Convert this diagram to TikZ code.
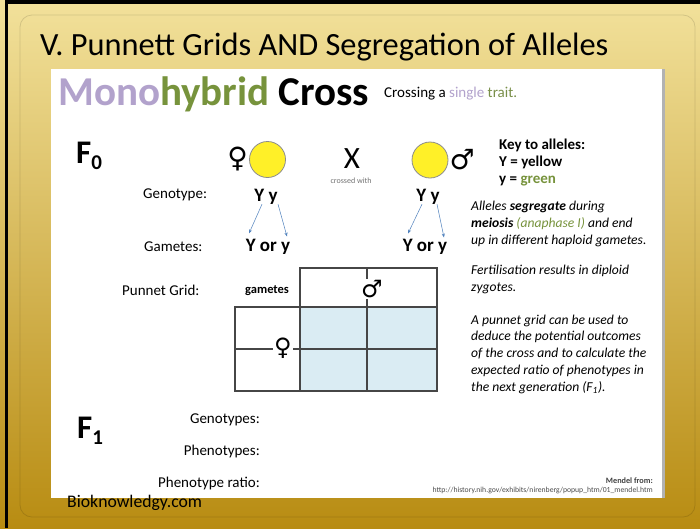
\documentclass[tikz,border=0pt]{standalone}
\usepackage{fontspec}
\setmainfont{Carlito}
\newfontfamily\symfont{DejaVu Sans}
\usetikzlibrary{arrows.meta, positioning}

\definecolor{bgtop}{RGB}{242,225,155}
\definecolor{bgmid}{RGB}{228,198,100}
\definecolor{bgbot}{RGB}{184,140,18}
\definecolor{monopurple}{RGB}{178,162,204}
\definecolor{hybgreen}{RGB}{119,147,60}
\definecolor{arrowblue}{RGB}{79,129,189}
\definecolor{cellblue}{RGB}{218,236,243}
\definecolor{gridgray}{RGB}{70,70,70}
\definecolor{peayellow}{RGB}{255,240,40}

\tikzset{
  % --- Folie ------------------------------------------------
  slidetitle/.style={anchor=base west, inner sep=0pt, font=\fontsize{32.4}{32.4}\selectfont},
  bigtitle/.style={anchor=base west, inner sep=0pt, font=\fontsize{41}{41}\selectfont\bfseries},
  small/.style={anchor=base west, inner sep=0pt, font=\fontsize{15}{15}\selectfont},
  % --- Beschriftungen ---------------------------------------
  gener/.style={anchor=base west, inner sep=0pt, font=\fontsize{33}{33}\selectfont\bfseries},
  lab/.style={anchor=base west, inner sep=0pt, font=\fontsize{15}{15}\selectfont},
  labr/.style={anchor=base east, inner sep=0pt, font=\fontsize{15}{15}\selectfont},
  gen/.style={anchor=base, inner sep=0pt, font=\fontsize{19}{19}\selectfont\bfseries},
  note/.style={anchor=base west, inner sep=0pt, align=left,
    font=\fontsize{13.6}{16.7}\selectfont\itshape},
  % --- Symbole ----------------------------------------------
  pea/.style={circle, draw=black!45, fill=peayellow, line width=0.8pt,
    minimum size=36pt, inner sep=0pt},
  sex/.style={inner sep=0pt, font=\symfont\fontsize{28}{28}\selectfont},
  sexs/.style={inner sep=1pt, fill=white, font=\symfont\fontsize{24}{24}\selectfont},
  allele/.style={->, >={Stealth[length=4pt, width=3pt]}, draw=arrowblue, line width=0.5pt},
  cell/.style={draw=gridgray, line width=1.2pt}
}

\begin{document}
\begin{tikzpicture}[x=1pt, y=-1pt]

  % --- Hintergrund ---------------------------------------------
  \useasboundingbox (0,0) rectangle (700,528);
  \fill[top color=bgtop, middle color=bgmid, bottom color=bgbot] (0,0) rectangle (700,528);
  \draw[black, opacity=0.12, line width=0.8pt, rounded corners=12pt] (20,15) rectangle (695,517);
  \fill[black] (5,0) rectangle (8,528);
  \fill[black] (5,0) rectangle (700,4);
  \fill[black!30] (662,69) rectangle (665,498);
  \fill[white] (51,69) rectangle (662,498);

  % --- Titel ---------------------------------------------------
  \node[slidetitle] (title) at (40,55) {V. Punnett Grids AND Segregation of Alleles};
  \node[bigtitle] (mono) at (58,105) {\textcolor{monopurple}{Mono}\textcolor{hybgreen}{hybrid} Cross};
  \node[small] (sub) at (384,97) {Crossing a \textcolor{monopurple}{single} \textcolor{hybgreen!80!gray}{trait.}};

  % --- F0: Eltern ----------------------------------------------
  \node[gener] (fzero) at (76,163) {F\raisebox{-6pt}{\fontsize{21}{21}\selectfont 0}};
  \node[pea] (fpea) at (267.5,159.5) {};
  \node[sex, left=1pt of fpea] (fsym) {♀};
  \node[pea] (mpea) at (430,160) {};
  \node[sex, right=1pt of mpea] (msym) {♂};
  \node[anchor=base, inner sep=0pt, font=\fontsize{31}{31}\selectfont] (cross) at (352,168) {X};
  \node[anchor=base, inner sep=0pt, text=black!55, font=\fontsize{8}{8}\selectfont] (crosswith) at (351,183) {crossed with};

  % --- Genotyp und Gameten -------------------------------------
  \node[lab] (genolab) at (143,198) {Genotype:};
  \node[gen] (fgeno) at (266,201) {Y y};
  \node[gen] (mgeno) at (428,201) {Y y};
  \node[lab] (gamlab) at (144,251) {Gametes:};
  \node[gen] (fgam) at (268,251) {Y or y};
  \node[gen] (mgam) at (425,251) {Y or y};

  \draw[allele] ([xshift=-4pt]fgeno.south) -- ([xshift=-19pt, yshift=5pt]fgam.north);
  \draw[allele] ([xshift=12pt]fgeno.south) -- ([xshift=19pt, yshift=2pt]fgam.north);
  \draw[allele] ([xshift=-6pt]mgeno.south) -- ([xshift=-17pt, yshift=5pt]mgam.north);
  \draw[allele] ([xshift=9pt]mgeno.south) -- ([xshift=19pt, yshift=1pt]mgam.north);

  % --- Punnett-Quadrat -----------------------------------------
  \node[lab] (punlab) at (122,295) {Punnet Grid:};
  \node[anchor=base west, inner sep=0pt, font=\fontsize{12.5}{12.5}\selectfont\bfseries] (gamhead) at (245,293) {gametes};
  \fill[cellblue] (300,307) rectangle (437,391);
  \draw[cell] (300,268) rectangle (437,307);
  \draw[cell] (235,307) rectangle (437,391);
  \draw[cell] (300,307) -- (300,391);
  \draw[cell] (367,268) -- (367,391);
  \draw[cell] (235,349) -- (437,349);
  \node[sexs] (gridmale) at (372,289) {♂};
  \node[sexs] (gridfemale) at (283,348) {♀};

  % --- Erklaerungen rechts (Anker = letzte Zeile) ---------------
  \node[note, font=\fontsize{15}{17}\selectfont\bfseries\upshape] (key) at (499,183)
    {Key to alleles:\\Y = yellow\\y = \textcolor{hybgreen}{green}};
  \node[note] (segnote) at (471,244)
    {Alleles \textbf{segregate} during\\\textbf{meiosis} \textcolor{hybgreen}{(anaphase I)} and end\\up in different haploid gametes.};
  \node[note] (fertnote) at (471,291)
    {Fertilisation results in diploid\\zygotes.};
  \node[note] (punnote) at (471,391)
    {A punnet grid can be used to\\deduce the potential outcomes\\of the cross and to calculate the\\expected ratio of phenotypes in\\the next generation (F\textsubscript{1}).};

  % --- F1: Nachkommen ------------------------------------------
  \node[gener] (fone) at (77,438) {F\raisebox{-6pt}{\fontsize{21}{21}\selectfont 1}};
  \node[labr] (genos) at (260,423) {Genotypes:};
  \node[labr] (phenos) at (260,455) {Phenotypes:};
  \node[labr] (ratio) at (260,487) {Phenotype ratio:};

  % --- Fusszeile -----------------------------------------------
  \node[anchor=base east, inner sep=0pt, text=black!75, font=\fontsize{8.2}{8.2}\selectfont\bfseries] (mendel) at (653,483) {Mendel from:};
  \node[anchor=base east, inner sep=0pt, text=black!70, font=\fontsize{7.7}{7.7}\selectfont] (url) at (653,492)
    {http://history.nih.gov/exhibits/nirenberg/popup\_htm/01\_mendel.htm};
  \node[anchor=base west, inner sep=0pt, font=\fontsize{17.7}{17.7}\selectfont] (site) at (67,507) {Bioknowledgy.com};

\end{tikzpicture}
\end{document}
